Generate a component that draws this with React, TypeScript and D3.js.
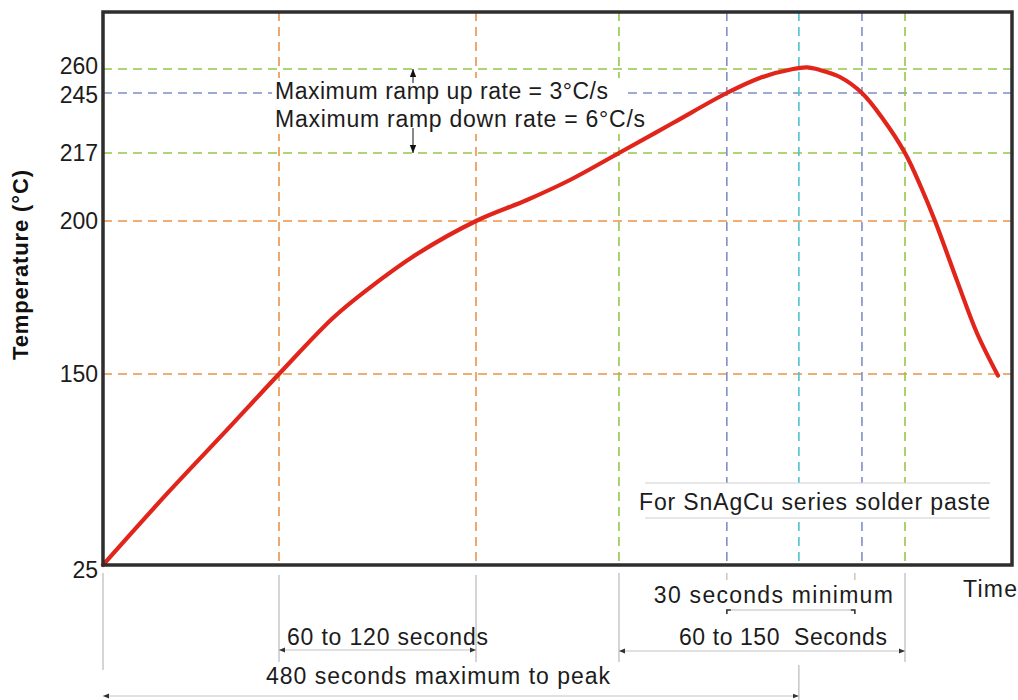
import React from "react";
import * as d3 from "d3";

// ---- data ----
const timeS = [0, 44, 85.5, 121.4, 158.6, 182.1, 216.6, 257.3, 292.4, 322.1, 355.9, 393.1, 430.3, 453, 476, 485.6, 494.5, 508.3, 523.5, 538, 553.2, 564.2, 573.9, 589.7, 602.8, 617.3];
const tempC = [25, 71.5, 113.4, 150, 168.3, 177.5, 189.2, 200, 205.25, 210.25, 217, 231, 245, 254.4, 260, 261, 259.4, 255, 245, 232.9, 217, 208.5, 200, 179.7, 163.4, 149];

const yTicks = [25, 150, 200, 217, 245, 260];
const hLevels = [260, 245, 217, 200, 150];
const hKinds = ["green", "blue", "green", "orange", "orange"];
const vTimes = [121.4, 257.3, 355.9, 430.3, 480, 523.5, 553.2];
const vKinds = ["orange", "orange", "green", "blue", "cyan", "blue", "green"];

const spanLabels = ["60 to 120 seconds", "30 seconds minimum", "60 to 150  Seconds", "480 seconds maximum to peak"];
const spanStart = [121.4, 430.3, 355.9, 0];
const spanEnd = [257.3, 518.6, 553.2, 480];

const rampLabels = ["Maximum ramp up rate = 3\u00B0C/s", "Maximum ramp down rate = 6\u00B0C/s"];
const noteLabel = "For SnAgCu series solder paste";
const yTitle = "Temperature (\u00B0C)";
const xTitle = "Time";

// ---- styles ----
const COLORS: Record<string, string> = {
  orange: "#EC9346",
  green: "#93C84A",
  blue: "#7E90C6",
  cyan: "#4EC0CF",
};
const FONT = "'Liberation Sans', Arial, Helvetica, sans-serif";
const TXT = "#1c1c1c";

export default function App() {
  const W = 1018, H = 700;
  const left = 103, right = 1012, top = 12, bottom = 565;

  const x = d3.scaleLinear().domain([0, 627]).range([left, right]);
  const y = d3.scaleLinear()
    .domain([25, 150, 200, 217, 245, 260, 296])
    .range([bottom, 374, 221, 153, 93, 69, top]);

  const line = d3.line<number>()
    .x((_, i) => x(timeS[i]))
    .y((d) => y(d))
    .curve(d3.curveCatmullRom.alpha(0.5));

  const tickNudge: Record<number, number> = { 260: -3, 245: 2, 25: 5 };

  // bottom annotation layout
  const spanTextX = [x(spanStart[0]) + 8, x(spanStart[1]) - 73, x(spanStart[2]) + 60, x(spanStart[3]) + 163];
  const spanTextW = [201, 239, 208, 344];
  const spanTextY = [645, 603, 645, 684];
  const spanArrowY = [650, 610, 651, 696];

  const ext = (t: number, y1: number, y2: number, key: string) => (
    <line key={key} x1={x(t)} x2={x(t)} y1={y1} y2={y2} stroke="#b9b9b9" strokeWidth={1.2} />
  );

  return (
    <svg width={W} height={H} style={{ position: "absolute", left: 0, top: 0, background: "#fff" }}
      fontFamily={FONT}>
      <defs>
        <marker id="ah" viewBox="0 0 10 10" refX="10" refY="5" markerWidth="6" markerHeight="6"
          orient="auto-start-reverse" markerUnits="userSpaceOnUse">
          <path d="M0,1 L10,5 L0,9 Z" fill="#333" />
        </marker>
        <marker id="ahb" viewBox="0 0 10 10" refX="10" refY="5" markerWidth="8" markerHeight="8"
          orient="auto-start-reverse" markerUnits="userSpaceOnUse">
          <path d="M0,1 L10,5 L0,9 Z" fill="#111" />
        </marker>
      </defs>
      <rect x={0} y={0} width={W} height={H} fill="#fff" />

      {/* horizontal reference lines */}
      {hLevels.map((v, i) => (
        <line key={"h" + v} x1={left} x2={right} y1={y(v)} y2={y(v)}
          stroke={COLORS[hKinds[i]]} strokeWidth={1.6} strokeDasharray="9,6" />
      ))}
      {/* vertical reference lines */}
      {vTimes.map((t, i) => (
        <line key={"v" + t} x1={x(t)} x2={x(t)} y1={top} y2={bottom}
          stroke={COLORS[vKinds[i]]} strokeWidth={1.6} strokeDasharray="9,6" />
      ))}

      {/* ramp annotation */}
      <rect x={272} y={78} width={350} height={26} fill="#fff" />
      <rect x={272} y={104} width={378} height={30} fill="#fff" />
      {rampLabels.map((s, i) => (
        <text key={s} x={275} y={99 + i * 28} fontSize={23} fill={TXT}
          textLength={i === 0 ? 333 : 370} lengthAdjust="spacing">{s}</text>
      ))}
      <line x1={413} x2={413} y1={83} y2={y(260)} stroke="#111" strokeWidth={1} markerEnd="url(#ahb)" />
      <line x1={413} x2={413} y1={128} y2={y(217)} stroke="#111" strokeWidth={1} markerEnd="url(#ahb)" />

      {/* note box */}
      <rect x={645} y={483} width={345} height={35} fill="#fff" />
      <line x1={645} x2={990} y1={483} y2={483} stroke="#d0d0d0" strokeWidth={1} />
      <line x1={645} x2={990} y1={518} y2={518} stroke="#d0d0d0" strokeWidth={1} />
      <text x={639} y={510} fontSize={23} fill={TXT} textLength={351} lengthAdjust="spacing">{noteLabel}</text>

      {/* curve */}
      <path d={line(tempC) || ""} fill="none" stroke="#E1251B" strokeWidth={4.2} strokeLinecap="round" strokeLinejoin="round" />

      {/* frame */}
      <rect x={left} y={top} width={right - left} height={bottom - top} fill="none" stroke="#2e2e2e" strokeWidth={3.5} />

      {/* y ticks */}
      {yTicks.map((v) => (
        <text key={"t" + v} x={98} y={y(v) + 8 + (tickNudge[v] || 0)} textAnchor="end" fontSize={23} fill={TXT}>{v}</text>
      ))}
      <text transform={`translate(28,265) rotate(-90)`} textAnchor="middle" fontSize={22} fontWeight="bold" fill="#111"
        textLength={190} lengthAdjust="spacing">{yTitle}</text>
      <text x={963} y={597} fontSize={23} fill={TXT} textLength={54} lengthAdjust="spacing">{xTitle}</text>

      {/* extension lines */}
      {ext(0, 573, 670, "e0")}
      {ext(spanStart[0], 575, 662, "e1")}
      {ext(spanEnd[0], 575, 662, "e2")}
      {ext(spanStart[2], 573, 662, "e3")}
      {ext(spanEnd[2], 573, 662, "e4")}
      {ext(spanStart[1], 573, 580, "e5")}
      {ext(spanEnd[1], 573, 580, "e6")}
      {ext(spanEnd[3], 665, 700, "e7")}

      {/* span arrows & labels */}
      {spanLabels.map((s, i) => {
        const x1 = x(spanStart[i]), x2 = x(spanEnd[i]), ay = spanArrowY[i];
        return (
          <g key={s}>
            {i === 1 ? (
              <g>
                <path d={`M${x1},${ay + 4}V${ay}H${x2}V${ay + 4}`} fill="none" stroke="#bdbdbd" strokeWidth={1.2} />
                <path d={`M${x1},${ay + 4}V${ay}H${x1 + 4}`} fill="none" stroke="#333" strokeWidth={1.5} />
                <path d={`M${x2},${ay + 4}V${ay}H${x2 - 4}`} fill="none" stroke="#333" strokeWidth={1.5} />
              </g>
            ) : (
              <line x1={x1} x2={x2} y1={ay} y2={ay} stroke="#c4c4c4" strokeWidth={1.2}
                markerStart="url(#ah)" markerEnd="url(#ah)" />
            )}
            <text x={spanTextX[i]} y={spanTextY[i]} fontSize={23} fill={TXT}
              textLength={spanTextW[i]} lengthAdjust="spacing"
              style={{ whiteSpace: "pre" }}>{s}</text>
          </g>
        );
      })}
    </svg>
  );
}
